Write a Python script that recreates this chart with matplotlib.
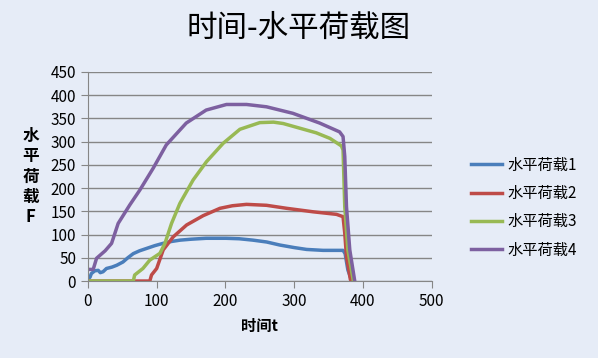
import matplotlib
matplotlib.use('Agg')
import matplotlib.pyplot as plt

plt.rcParams['font.family'] = ['Noto Sans CJK SC', 'DejaVu Sans']

# 时间-水平荷载 数据
t1 = [0, 3, 5, 10, 15, 18, 22, 27, 35, 42, 51, 58, 66, 75, 85, 97, 109, 121, 134, 150, 172, 190, 201, 220, 240, 260, 279, 300, 318, 342, 360, 371, 374, 378, 383, 386]
f1 = [5, 8, 16, 22, 23, 18, 20, 27, 30, 34, 41, 50, 59, 65, 70, 76, 81, 85, 88, 90, 92, 92, 92, 91, 88, 84, 77.5, 72, 68, 66, 66, 66, 59, 24, 3, 0]

t2 = [0, 90, 92.5, 100, 109.5, 124, 143.5, 167.6, 192, 210, 230.6, 259.7, 289, 327.5, 361.5, 371, 373.5, 376, 381.7, 384]
f2 = [0, 0, 13, 27, 67, 95, 120.6, 140.7, 156.5, 162, 165, 163, 156.5, 149, 143.5, 138.5, 103, 52, 3, 0]

t3 = [0, 66, 68, 80, 90, 104.7, 112, 121.6, 133.7, 153, 172.5, 196.7, 221, 250, 270, 284, 308, 332, 352, 368.7, 371, 373.5, 378, 386]
f3 = [0, 0, 13, 27, 45, 59.6, 81, 124, 167, 217.5, 257, 296.5, 326.6, 341, 342, 339, 329, 319, 307, 290.7, 282, 160, 67, 0]

t4 = [0, 7.7, 12.6, 25, 34.4, 44, 61, 75.6, 95, 114, 143, 172, 201.5, 230.7, 259.7, 298, 337, 366, 371, 373.5, 376, 380.8, 388]
f4 = [25, 25, 49, 65, 81, 124, 164, 196, 243, 293, 340, 368, 380, 380, 375, 361, 340, 321, 311, 268, 160, 67, 0]

names = ['水平荷载1', '水平荷载2', '水平荷载3', '水平荷载4']
colors = ['#4A7EBB', '#BE4B48', '#98B954', '#7D60A0']
series = [(t1, f1), (t2, f2), (t3, f3), (t4, f4)]

bg = '#E6ECF7'
fig = plt.figure(figsize=(5.98, 3.58), dpi=100, facecolor=bg)
ax = fig.add_axes([0.147, 0.215, 0.575, 0.584], facecolor=bg)

for (t, f), name, c in zip(series, names, colors):
    ax.plot(t, f, color=c, linewidth=2.5, label=name)

ax.set_xlim(0, 500)
ax.set_ylim(0, 450)
ax.set_xticks(range(0, 501, 100))
ax.set_yticks(range(0, 451, 50))
ax.yaxis.grid(True, color='#868686', linewidth=1)
ax.set_axisbelow(True)
for s in ['top', 'right']:
    ax.spines[s].set_visible(False)
for s in ['left', 'bottom']:
    ax.spines[s].set_color('#868686')
ax.tick_params(axis='both', colors='#868686', labelcolor='black', labelsize=11, length=5)

fig.suptitle('时间-水平荷载图', fontsize=22, y=0.965)
ax.set_xlabel('时间t', fontsize=11, fontweight='bold', labelpad=6)
ax.set_ylabel('水\n平\n荷\n载\nF', fontsize=12, fontweight='bold', rotation=0,
              va='center', linespacing=1.15)
ax.yaxis.set_label_coords(-0.166, 0.5)

leg = fig.legend(loc='center left', bbox_to_anchor=(0.765, 0.42), frameon=False,
                 fontsize=11, handlelength=2.0, handletextpad=0.4, labelspacing=0.75)

fig.savefig('out.png', dpi=100, facecolor=bg)
